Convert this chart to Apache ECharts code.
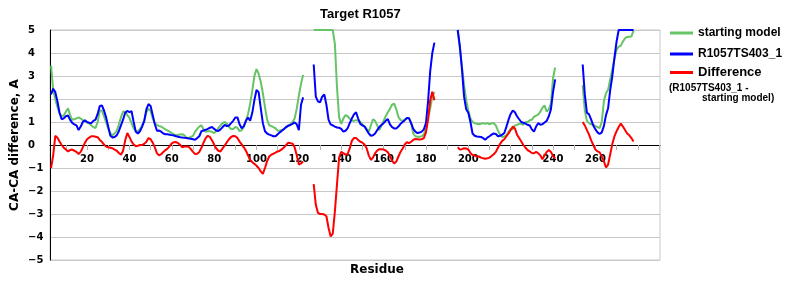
<!DOCTYPE html>
<html>
<head>
<meta charset="utf-8">
<script src="https://cdn.jsdelivr.net/npm/echarts@6/dist/echarts.min.js"></script>
<style>html,body{margin:0;padding:0;background:#fff;}#c{width:800px;height:300px;}</style>
</head>
<body>
<div id="c"></div>
<script>
// Residue range shown on the category axis
const firstResidue = 3;
const lastResidue = 290;
const xTickLabels = [20, 40, 60, 80, 100, 120, 140, 160, 180, 200, 220, 240, 260];
const yTickLabels = [-5, -4, -3, -2, -1, 0, 1, 2, 3, 4, 5];

// Segment start residues
const seg1Start = 3, seg2Start = 127, seg3Start = 195, seg4Start = 254;

// starting model
const green1 = [3.45,2.4,2.0,1.65,1.38,1.25,1.28,1.45,1.6,1.3,
1.1,1.12,1.16,1.2,1.15,1.08,1.02,0.98,0.94,0.85,
0.78,0.74,1.0,1.5,1.5,1.25,0.98,0.7,0.5,0.43,
0.5,0.62,0.88,1.2,1.45,1.46,1.3,1.18,0.95,0.72,
0.6,0.6,0.7,0.85,1.05,1.42,1.58,1.48,1.15,0.95,
0.87,0.82,0.8,0.74,0.68,0.63,0.58,0.52,0.46,0.43,
0.45,0.46,0.47,0.42,0.3,0.32,0.35,0.4,0.57,0.7,
0.8,0.86,0.68,0.57,0.6,0.6,0.57,0.52,0.6,0.74,
0.84,0.95,1.0,0.92,0.78,0.7,0.7,0.78,0.75,0.6,
0.65,0.78,1.05,1.35,1.8,2.35,3.0,3.3,3.1,2.75,
2.25,1.65,1.1,0.86,0.82,0.78,0.72,0.62,0.63,0.65,
0.7,0.78,0.84,0.9,1.0,1.15,1.58,2.15,2.65,3.05];
const green2 = [5,5,5,5,5,5,5,5,5,5,
4.4,2.5,1.2,0.92,1.15,1.3,1.25,1.15,1.05,1.05,
1.08,1.05,1.0,0.9,0.82,0.7,0.58,0.85,1.12,1.05,
0.85,0.65,0.85,1.05,1.25,1.42,1.57,1.75,1.8,1.55,
1.22,1.08,1.05,1.1,1.15,1.18,0.95,0.5,0.38,0.36,
0.36,0.38,0.45,0.7,1.2,1.6,2.1,2.3];
const green3 = [5.0,4.2,3.4,2.6,1.95,1.5,1.15,1.0,0.95,0.92,
0.9,0.92,0.95,0.92,0.95,0.9,0.95,0.95,0.85,0.62,
0.45,0.35,0.37,0.42,0.58,0.7,0.68,0.85,0.87,0.92,
0.92,0.88,1.0,1.0,1.08,1.1,1.22,1.28,1.32,1.45,
1.62,1.72,1.45,1.55,1.8,2.9,3.37];
const green4 = [2.6,1.5,1.05,0.95,0.9,0.87,0.82,0.78,0.73,1.0,
1.9,2.25,2.4,2.85,3.3,3.75,4.15,4.28,4.32,4.5,
4.64,4.7,4.71,4.72,4.97];

// R1057TS403_1
const blue1 = [2.2,2.45,2.3,1.9,1.4,1.12,1.16,1.25,1.28,1.09,
0.96,0.9,0.85,0.65,0.8,1.0,1.08,1.0,0.97,0.95,
1.05,1.1,1.35,1.7,1.72,1.5,1.2,0.8,0.4,0.33,
0.35,0.42,0.6,0.85,1.1,1.4,1.48,1.43,1.47,1.0,
0.58,0.5,0.6,0.8,1.05,1.55,1.78,1.7,1.3,0.9,
0.62,0.63,0.58,0.5,0.47,0.47,0.45,0.43,0.41,0.38,
0.36,0.34,0.33,0.31,0.3,0.28,0.27,0.25,0.23,0.3,
0.38,0.6,0.63,0.66,0.7,0.75,0.78,0.7,0.63,0.61,
0.68,0.78,0.87,0.82,0.85,0.95,1.05,1.2,1.2,0.9,
0.73,0.82,1.05,1.2,1.05,1.4,1.95,2.39,2.3,1.6,
0.95,0.6,0.5,0.45,0.42,0.38,0.38,0.47,0.55,0.62,
0.7,0.78,0.84,0.87,0.92,0.98,0.9,0.65,1.75,2.07];
const blue2 = [3.5,2.1,1.9,1.85,2.1,2.2,1.75,1.1,0.9,0.85,
0.8,0.76,0.75,0.7,0.58,0.62,0.72,0.95,1.15,1.33,
1.42,1.15,0.92,0.85,0.8,0.65,0.5,0.4,0.42,0.5,
0.65,0.78,0.87,0.95,1.05,1.13,0.9,0.78,0.72,0.72,
0.8,0.92,1.0,1.08,1.18,1.16,0.95,0.7,0.58,0.52,
0.54,0.58,0.68,0.95,1.9,3.2,4.0,4.45];
const blue3 = [5.0,4.3,3.3,2.1,1.55,1.4,1.0,0.5,0.4,0.37,
0.36,0.35,0.3,0.23,0.32,0.38,0.45,0.5,0.48,0.38,
0.4,0.45,0.52,0.8,1.1,1.35,1.5,1.42,1.25,1.12,
1.0,0.97,0.93,0.88,0.85,0.68,0.58,0.8,0.95,0.88,
0.9,0.98,1.05,1.25,1.55,2.3,2.85];
const blue4 = [3.5,2.2,1.4,1.33,1.1,0.85,0.68,0.55,0.48,0.55,
0.82,1.3,1.6,2.4,3.0,3.8,4.5,5,5,5,
5,5,5,5,5];

// Difference (R1057TS403_1 - starting model)
const red1 = [-1.0,-0.45,0.4,0.32,0.15,0.0,-0.12,-0.2,-0.28,-0.22,
-0.2,-0.25,-0.3,-0.39,-0.3,-0.1,0.1,0.25,0.32,0.38,
0.38,0.36,0.34,0.22,0.14,0.02,-0.07,-0.1,-0.12,-0.14,
-0.2,-0.25,-0.35,-0.42,-0.25,0.2,0.52,0.35,0.15,0.02,
-0.05,-0.03,0.0,0.0,0.05,0.14,0.3,0.25,0.1,-0.1,
-0.36,-0.45,-0.4,-0.3,-0.22,-0.16,-0.05,0.07,0.12,0.13,
0.08,0.0,-0.1,-0.07,-0.07,-0.08,-0.18,-0.3,-0.39,-0.38,
-0.3,-0.12,0.1,0.3,0.4,0.35,0.2,0.02,-0.15,-0.25,
-0.28,-0.15,-0.02,0.12,0.25,0.35,0.39,0.38,0.3,0.15,
0.03,-0.1,-0.25,-0.45,-0.65,-0.75,-0.82,-0.9,-1.0,-1.15,
-1.26,-1.0,-0.7,-0.5,-0.42,-0.38,-0.33,-0.28,-0.25,-0.18,
-0.1,0.0,0.1,0.08,0.06,-0.1,-0.45,-0.85,-0.8,-0.72];
const red2 = [-1.7,-2.6,-2.95,-3.0,-3.0,-3.02,-3.1,-3.6,-3.98,-3.85,
-2.9,-1.7,-0.55,-0.3,-0.35,-0.42,-0.4,-0.15,0.18,0.3,
0.3,0.22,0.14,0.1,0.02,-0.14,-0.45,-0.65,-0.55,-0.35,
-0.24,-0.18,-0.18,-0.2,-0.24,-0.32,-0.48,-0.68,-0.8,-0.72,
-0.5,-0.3,-0.15,0.02,0.12,0.08,0.14,0.22,0.26,0.25,
0.24,0.25,0.3,0.55,1.1,1.95,2.32,1.95];
const red3 = [-0.1,-0.2,-0.18,-0.14,-0.15,-0.2,-0.35,-0.43,-0.45,-0.5,
-0.5,-0.55,-0.58,-0.6,-0.58,-0.55,-0.48,-0.4,-0.3,-0.12,
0.05,0.18,0.25,0.38,0.5,0.65,0.8,0.72,0.45,0.3,
0.15,0.0,-0.12,-0.22,-0.28,-0.35,-0.36,-0.3,-0.36,-0.45,
-0.62,-0.45,-0.3,-0.22,-0.3,-0.48,-0.58];
const red4 = [1.0,0.85,0.65,0.45,0.2,0.0,-0.2,-0.28,-0.32,-0.5,
-0.7,-0.98,-0.85,-0.4,0.05,0.38,0.6,0.78,0.93,0.8,
0.65,0.5,0.42,0.3,0.15];

const residues = [];
for (let r = firstResidue; r <= lastResidue; r++) residues.push(String(r));

function place(segs) {
  const arr = residues.map(() => null);
  segs.forEach(([start, vals]) => vals.forEach((v, i) => { arr[start - firstResidue + i] = v; }));
  return arr;
}
const greenData = place([[seg1Start, green1], [seg2Start, green2], [seg3Start, green3], [seg4Start, green4]]);
const blueData = place([[seg1Start, blue1], [seg2Start, blue2], [seg3Start, blue3], [seg4Start, blue4]]);
const redData = place([[seg1Start, red1], [seg2Start, red2], [seg3Start, red3], [seg4Start, red4]]);

const tickFont = 'DejaVu Sans';
const textFont = 'Liberation Sans';

const gridTop = 30, gridBottom = 40, plotHeight = 300 - gridTop - gridBottom;
const yMin = yTickLabels[0], yMax = yTickLabels[yTickLabels.length - 1];
// shift the category axis up so it sits on y = 0
const zeroOffset = -plotHeight * (0 - yMin) / (yMax - yMin);

const chart = echarts.init(document.getElementById('c'), null, {renderer: 'canvas'});
const legendText = {fontFamily: textFont, fontWeight: 'bold', fontSize: 12, color: '#000'};
chart.setOption({
  animation: false,
  backgroundColor: '#fff',
  title: {
    text: 'Target R1057', left: 320, top: 8, padding: 0,
    textStyle: {fontFamily: textFont, fontWeight: 'bold', fontSize: 13, color: '#000'}
  },
  grid: {left: 50, right: 140, top: gridTop, bottom: gridBottom, show: true, borderColor: '#c8c8c8', borderWidth: 1},
  legend: [
    {data: ['starting model'], left: 670, top: 27, padding: 0, icon: 'rect', itemWidth: 23, itemHeight: 3, textStyle: legendText},
    {data: ['R1057TS403_1'], left: 670, top: 48, padding: 0, icon: 'rect', itemWidth: 23, itemHeight: 3, textStyle: legendText},
    {data: ['Difference'], left: 670, top: 66, padding: 0, icon: 'rect', itemWidth: 23, itemHeight: 3,
     textStyle: Object.assign({}, legendText, {fontSize: 13})}
  ],
  xAxis: {
    type: 'category',
    data: residues,
    boundaryGap: true,
    position: 'bottom',
    offset: zeroOffset,
    axisLine: {onZero: false, lineStyle: {color: '#000', width: 1}},
    axisTick: {show: true, alignWithLabel: true, length: 5, lineStyle: {color: '#b4b4b4'},
      interval: (i, v) => Number(v) % 10 === 0},
    axisLabel: {
      interval: (i, v) => xTickLabels.indexOf(Number(v)) >= 0,
      margin: 9, fontFamily: tickFont, fontWeight: 'bold', fontSize: 10, color: '#000'
    },
    splitLine: {show: false}
  },
  yAxis: {
    type: 'value', min: yMin, max: yMax, interval: 1,
    axisLine: {show: true, onZero: false, lineStyle: {color: '#000', width: 1}},
    axisTick: {show: false},
    axisLabel: {
      align: 'left', margin: 22, fontFamily: tickFont, fontWeight: 'bold', fontSize: 10, color: '#000',
      formatter: v => (v < 0 ? '\u2212' + Math.abs(v) : String(v))
    },
    splitLine: {show: true, lineStyle: {color: '#c8c8c8', width: 1}}
  },
  series: [
    {name: 'starting model', type: 'line', data: greenData, symbol: 'none', connectNulls: false,
     lineStyle: {color: '#66c466', width: 2}, itemStyle: {color: '#66c466'}},
    {name: 'R1057TS403_1', type: 'line', data: blueData, symbol: 'none', connectNulls: false,
     lineStyle: {color: '#0000ff', width: 2}, itemStyle: {color: '#0000ff'}},
    {name: 'Difference', type: 'line', data: redData, symbol: 'none', connectNulls: false,
     lineStyle: {color: '#ff0000', width: 2}, itemStyle: {color: '#ff0000'}}
  ],
  graphic: [
    {type: 'text', left: 669, top: 83, style: {text: '(R1057TS403_1 -', font: 'bold 10px "Liberation Sans"', fill: '#000'}},
    {type: 'text', left: 702, top: 93, style: {text: 'starting model)', font: 'bold 10px "Liberation Sans"', fill: '#000'}},
    {type: 'text', x: 15, y: 145, rotation: Math.PI / 2,
     style: {text: 'CA-CA difference, A', font: 'bold 12px "DejaVu Sans"', fill: '#000', align: 'center', verticalAlign: 'middle'}},
    {type: 'text', x: 377, y: 270,
     style: {text: 'Residue', font: 'bold 12px "DejaVu Sans"', fill: '#000', align: 'center', verticalAlign: 'middle'}}
  ]
});
</script>
</body>
</html>
